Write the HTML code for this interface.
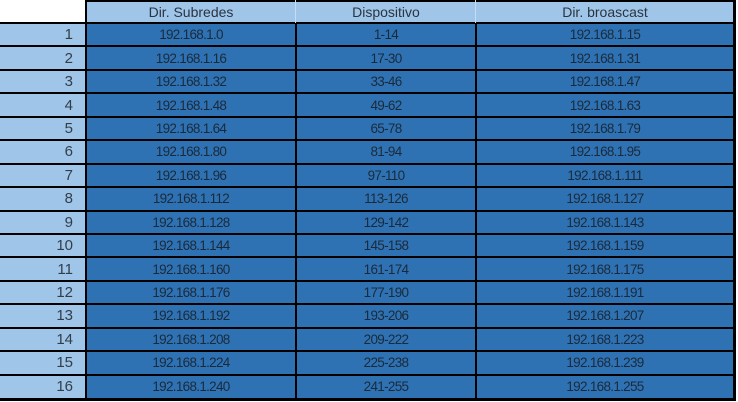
<!DOCTYPE html>
<html><head><meta charset="utf-8"><style>
html,body{margin:0;padding:0;background:#fff;width:738px;height:402px;overflow:hidden}
#t{position:relative;width:738px;height:402px;font-family:"Liberation Sans",sans-serif;font-size:13.5px;color:#1b2a3b}
.c{position:absolute;display:flex;align-items:center;justify-content:center;box-sizing:border-box}
.h{background:#9fc5e8;color:#2a3440;font-size:14px}
.d{background:#2e72b4;letter-spacing:-0.7px}
.n{background:#9fc5e8;justify-content:flex-end;padding-right:13px;font-size:15px;color:#333d48}
.l{position:absolute;background:#000}
</style></head><body>
<div id="t"></div>
<script>
const rowNums=["1","2","3","4","5","6","7","8","9","10","11","12","13","14","15","16"];
const subnets=["192.168.1.0","192.168.1.16","192.168.1.32","192.168.1.48","192.168.1.64","192.168.1.80","192.168.1.96","192.168.1.112","192.168.1.128","192.168.1.144","192.168.1.160","192.168.1.176","192.168.1.192","192.168.1.208","192.168.1.224","192.168.1.240"];
const devices=["1-14","17-30","33-46","49-62","65-78","81-94","97-110","113-126","129-142","145-158","161-174","177-190","193-206","209-222","225-238","241-255"];
const broadcasts=["192.168.1.15","192.168.1.31","192.168.1.47","192.168.1.63","192.168.1.79","192.168.1.95","192.168.1.111","192.168.1.127","192.168.1.143","192.168.1.159","192.168.1.175","192.168.1.191","192.168.1.207","192.168.1.223","192.168.1.239","192.168.1.255"];
const headers=["Dir. Subredes","Dispositivo","Dir. broascast"];
const t=document.getElementById('t');
const xs=[0,86,296,476,734];
const H0=23, RH=(398-23)/16;
function cell(cls,x0,x1,y0,y1,txt,name){
  const e=document.createElement('div');
  e.className='c '+cls;
  e.style.left=x0+'px';e.style.top=y0+'px';e.style.width=(x1-x0)+'px';e.style.height=(y1-y0)+'px';
  e.textContent=txt;
  
  
  t.appendChild(e);
}
headers.forEach((h,i)=>cell('h',xs[i+1],xs[i+2],0,H0,h,'header-'+(i+1)));
const cols=[subnets,devices,broadcasts];
rowNums.forEach((r,i)=>{
  const y0=H0+RH*i,y1=H0+RH*(i+1);
  cell('n',0,86,y0,y1,r,'row-number-'+r);
  cols.forEach((c,j)=>cell('d',xs[j+1],xs[j+2],y0,y1,c[i],'cell-r'+r+'-c'+(j+1)));
});
function line(x,y,w,h,col,name){
  const e=document.createElement('div');
  e.className='l';
  e.style.left=x+'px';e.style.top=y+'px';e.style.width=w+'px';e.style.height=h+'px';
  if(col)e.style.background=col;
  
  
  t.appendChild(e);
}
line(86,0,650,2,null,'top-border');
line(0,22,736,2,null,'header-bottom-border');
for(let i=1;i<16;i++) line(0,Math.round(H0+RH*i)-1,736,1.5,null,'row-border');
line(0,398,736,3,null,'bottom-border');
line(85,0,2,401,null,'col-border');
line(295,0,1,23,'#c8dcef','header-sep');
line(475,0,1,23,'#c8dcef','header-sep');
line(295,23,1.5,376,null,'col-border');
line(475,23,1.5,376,null,'col-border');
line(733,0,3,401,null,'right-border');
</script>
</body></html>
